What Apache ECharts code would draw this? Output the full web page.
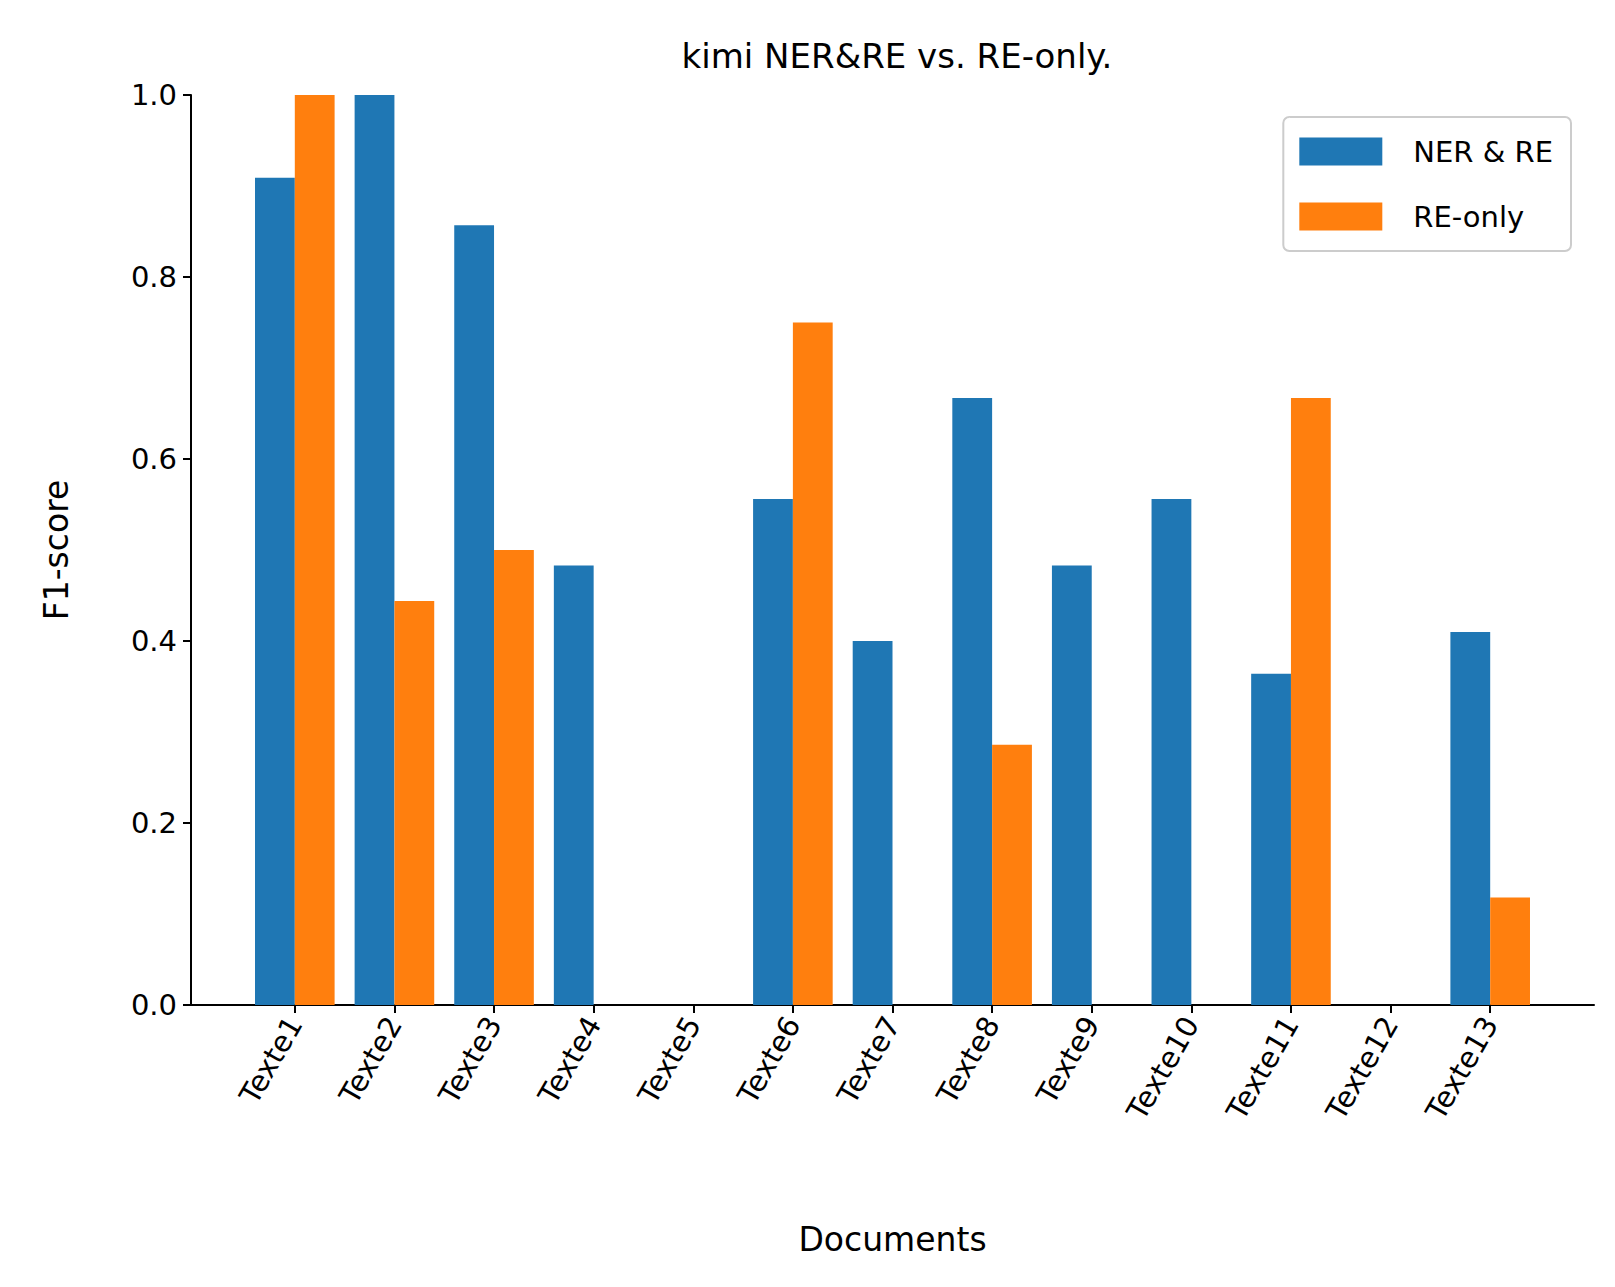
<!DOCTYPE html>
<html><head><meta charset="utf-8">
<script src="https://cdn.jsdelivr.net/npm/echarts@6/dist/echarts.min.js"></script>
<style>html,body{margin:0;background:#fff}#c{width:1615px;height:1287px}</style>
</head><body><div id="c"></div>
<script>
var categories = ['Texte1','Texte2','Texte3','Texte4','Texte5','Texte6','Texte7','Texte8','Texte9','Texte10','Texte11','Texte12','Texte13'];
var nerRe = [0.909, 1.0, 0.857, 0.483, 0, 0.556, 0.4, 0.667, 0.483, 0.556, 0.364, 0, 0.41];
var reOnly = [1.0, 0.444, 0.5, 0, 0, 0.75, 0, 0.286, 0, 0, 0.667, 0, 0.118];

var font = 'DejaVu Sans';
var chart = echarts.init(document.getElementById('c'), null, { renderer: 'svg' });
chart.setOption({
  animation: false,
  textStyle: { fontFamily: font },
  title: { text: 'kimi NER&RE vs. RE-only.', left: 892, top: 34, textAlign: 'center',
    textStyle: { fontFamily: font, fontSize: 34, fontWeight: 'normal', color: '#000' } },
  legend: {
    right: 44, top: 117, orient: 'vertical', itemWidth: 83, itemHeight: 28, itemGap: 36,
    padding: [20, 18, 20, 16], borderColor: '#ccc', borderWidth: 2, borderRadius: 6,
    textStyle: { fontFamily: font, fontSize: 29, color: '#000', padding: [0, 0, 0, 26] },
    data: [{ name: 'NER & RE', icon: 'rect' }, { name: 'RE-only', icon: 'rect' }]
  },
  grid: [
    { left: 191, right: 21, top: 95, bottom: 282 },
    { left: 245, width: 1295, top: 95, bottom: 282 }
  ],
  xAxis: [
    { gridIndex: 0, type: 'value', min: 0, max: 1, axisLine: { lineStyle: { color: '#000', width: 2 } },
      axisTick: { show: false }, axisLabel: { show: false }, splitLine: { show: false },
      name: 'Documents', nameLocation: 'middle', nameGap: 218,
      nameTextStyle: { fontFamily: font, fontSize: 33, color: '#000' } },
    { gridIndex: 1, type: 'category', data: categories, axisLine: { show: false },
      axisTick: { show: true, alignWithLabel: true, length: 8, lineStyle: { color: '#000', width: 2 } },
      axisLabel: { rotate: 60, fontSize: 29, color: '#000', margin: 14, interval: 0, fontFamily: font } }
  ],
  yAxis: [
    { gridIndex: 0, type: 'value', min: 0, max: 1, interval: 0.2,
      axisLine: { show: true, lineStyle: { color: '#000', width: 2 } },
      axisTick: { show: true, length: 8, lineStyle: { color: '#000', width: 2 } },
      axisLabel: { fontSize: 29, color: '#000', margin: 14, fontFamily: font,
        formatter: function (v) { return v.toFixed(1); } },
      splitLine: { show: false },
      name: 'F1-score', nameLocation: 'middle', nameGap: 118,
      nameTextStyle: { fontFamily: font, fontSize: 33, color: '#000' } },
    { gridIndex: 1, type: 'value', min: 0, max: 1, show: false }
  ],
  series: [
    { name: 'NER & RE', type: 'bar', xAxisIndex: 1, yAxisIndex: 1, data: nerRe,
      barWidth: 39.8, barGap: '0%', itemStyle: { color: '#1f77b4' } },
    { name: 'RE-only', type: 'bar', xAxisIndex: 1, yAxisIndex: 1, data: reOnly,
      barWidth: 39.8, itemStyle: { color: '#ff7f0e' } }
  ]
});
</script></body></html>
